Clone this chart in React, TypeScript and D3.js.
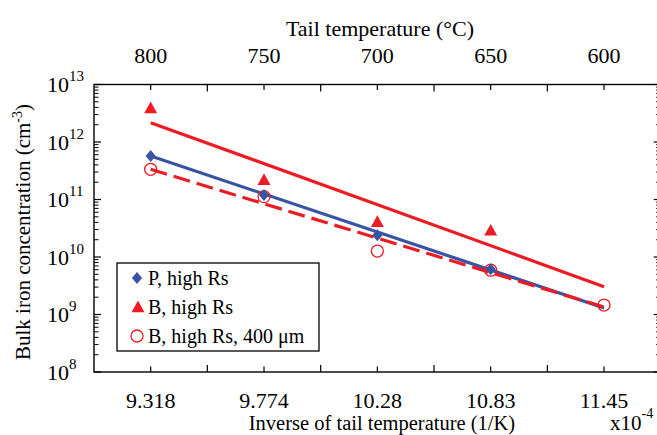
import React from "react";
import * as d3 from "d3";

// ---- data ----
const tempTicks = [800, 750, 700, 650, 600];
const topLabels = ["800", "750", "700", "650", "600"];
const bottomLabels = ["9.318", "9.774", "10.28", "10.83", "11.45"];
const yDecades = [8, 9, 10, 11, 12, 13];

const pTemps = [800, 750, 700, 650];
const pValues = [5.7e11, 1.2e11, 2.4e10, 6.1e9];
const bTemps = [800, 750, 700, 650];
const bValues = [3.9e12, 2.2e11, 4.1e10, 2.9e10];
const b400Temps = [800, 750, 700, 650, 600];
const b400Values = [3.35e11, 1.12e11, 1.27e10, 5.9e9, 1.46e9];

const fitTemps = [800, 600];
const pFit = [5.7e11, 1.3e9];
const bFit = [2.17e12, 3.05e9];
const b400Fit = [3.35e11, 1.35e9];

const legendLabels = ["P, high Rs", "B, high Rs", "B, high Rs, 400 \u03bcm"];

const RED = "#ed1c24";
const BLUE = "#3a54a4";
const FONT = "Liberation Serif, DejaVu Serif, serif";

export default function App() {
  const W = 657, H = 435;
  const left = 94, right = 660.7, top = 84.5, bottom = 372;
  const x = d3.scaleLinear().domain([825, 575]).range([left, right]);
  const y = d3.scaleLog().domain([1e8, 1e13]).range([bottom, top]);

  const line = d3
    .line<[number, number]>()
    .x((d) => x(d[0]))
    .y((d) => y(d[1]));

  const zip = (a: number[], b: number[]) => a.map((t, i) => [t, b[i]] as [number, number]);

  const minorT = d3.range(800, 599, -25);
  const yMinor: number[] = [];
  for (let k = 8; k < 13; k++) for (let m = 2; m <= 9; m++) yMinor.push(m * Math.pow(10, k));

  const diamond = (cx: number, cy: number, s = 6) =>
    `M${cx},${cy - s}L${cx + s * 0.85},${cy}L${cx},${cy + s}L${cx - s * 0.85},${cy}Z`;
  const tri = (cx: number, cy: number, s = 6.5) =>
    `M${cx},${cy - s}L${cx + s},${cy + s * 0.8}L${cx - s},${cy + s * 0.8}Z`;

  const legX = 117, legY = 263, legW = 202, legH = 88;
  const rowY = [278, 307, 336];
  const ts = { fontFamily: FONT };

  return (
    <svg
      width={W}
      height={H}
      style={{ position: "absolute", left: 0, top: 0, overflow: "hidden", background: "#fff", fontFamily: FONT }}
    >
      {/* frame */}
      <rect x={left} y={top} width={right - left} height={bottom - top} fill="none" stroke="#000" strokeWidth={1.4} />

      {/* x ticks top & bottom */}
      {minorT.map((t) => {
        const labeled = t % 50 === 0;
        const len = labeled ? 5.5 : 7;
        return (
          <g key={t} stroke="#000" strokeWidth={1.2}>
            <line x1={x(t)} x2={x(t)} y1={top} y2={top + len} />
            <line x1={x(t)} x2={x(t)} y1={bottom} y2={bottom - len} />
          </g>
        );
      })}

      {/* y ticks */}
      {yDecades.map((k) => (
        <g key={k} stroke="#000" strokeWidth={1.2}>
          <line x1={left} x2={left + 7} y1={y(Math.pow(10, k))} y2={y(Math.pow(10, k))} />
          <line x1={right} x2={right - 7} y1={y(Math.pow(10, k))} y2={y(Math.pow(10, k))} />
        </g>
      ))}
      {yMinor.map((v, i) => (
        <g key={i} stroke="#000" strokeWidth={1}>
          <line x1={left} x2={left + 4.5} y1={y(v)} y2={y(v)} />
          <line x1={right} x2={right - 4.5} y1={y(v)} y2={y(v)} />
        </g>
      ))}

      {/* y labels */}
      {yDecades.map((k) => (
        <text key={k} x={47} y={y(Math.pow(10, k)) + 7.5} fontSize={22} fill="#000" style={ts}>
          10
          <tspan dy={-11} fontSize={15}>{k}</tspan>
        </text>
      ))}

      {/* top labels */}
      {tempTicks.map((t, i) => (
        <text key={t} x={x(t)} y={62.5} fontSize={22} textAnchor="middle" fill="#000" style={ts}>
          {topLabels[i]}
        </text>
      ))}
      <text x={380} y={36} fontSize={22} textAnchor="middle" fill="#000" style={ts}>
        Tail temperature (°C)
      </text>

      {/* bottom labels */}
      {tempTicks.map((t, i) => (
        <text key={t} x={x(t)} y={408} fontSize={22} textAnchor="middle" fill="#000" style={ts}>
          {bottomLabels[i]}
        </text>
      ))}
      <text x={382} y={430} fontSize={20.5} textAnchor="middle" fill="#000" style={ts}>
        Inverse of tail temperature (1/K)
      </text>
      <text x={610} y={430} fontSize={21} fill="#000" style={ts}>
        x10
        <tspan dy={-12} fontSize={14}>-4</tspan>
      </text>

      {/* y title */}
      <text
        transform={`translate(30, 232) rotate(-90)`}
        fontSize={21}
        textAnchor="middle"
        fill="#000"
        style={ts}
      >
        Bulk iron concentration (cm
        <tspan dy={-8} fontSize={14}>-3</tspan>
        <tspan dy={8}>)</tspan>
      </text>

      {/* fit lines */}
      <path d={line(zip(fitTemps, bFit)) || ""} stroke={RED} strokeWidth={3.2} fill="none" />
      <path d={line(zip(fitTemps, pFit)) || ""} stroke={BLUE} strokeWidth={3.2} fill="none" />
      <path d={line(zip(fitTemps, b400Fit)) || ""} stroke={RED} strokeWidth={3.2} fill="none" strokeDasharray="17,7" />

      {/* markers */}
      {b400Temps.map((t, i) => (
        <circle key={t} cx={x(t)} cy={y(b400Values[i])} r={6} fill="none" stroke={RED} strokeWidth={1.3} />
      ))}
      {bTemps.map((t, i) => (
        <path key={t} d={tri(x(t), y(bValues[i]))} fill={RED} />
      ))}
      {pTemps.map((t, i) => (
        <path key={t} d={diamond(x(t), y(pValues[i]))} fill={BLUE} />
      ))}

      {/* legend */}
      <rect x={legX} y={legY} width={legW} height={legH} fill="#fff" stroke="#000" strokeWidth={1.3} />
      <path d={diamond(137, rowY[0])} fill={BLUE} />
      <path d={tri(138, rowY[1])} fill={RED} />
      <circle cx={137} cy={rowY[2]} r={6} fill="none" stroke={RED} strokeWidth={1.3} />
      {legendLabels.map((s, i) => (
        <text key={s} x={148} y={rowY[i] + 7} fontSize={20} fill="#000" style={ts}>
          {s}
        </text>
      ))}
    </svg>
  );
}
